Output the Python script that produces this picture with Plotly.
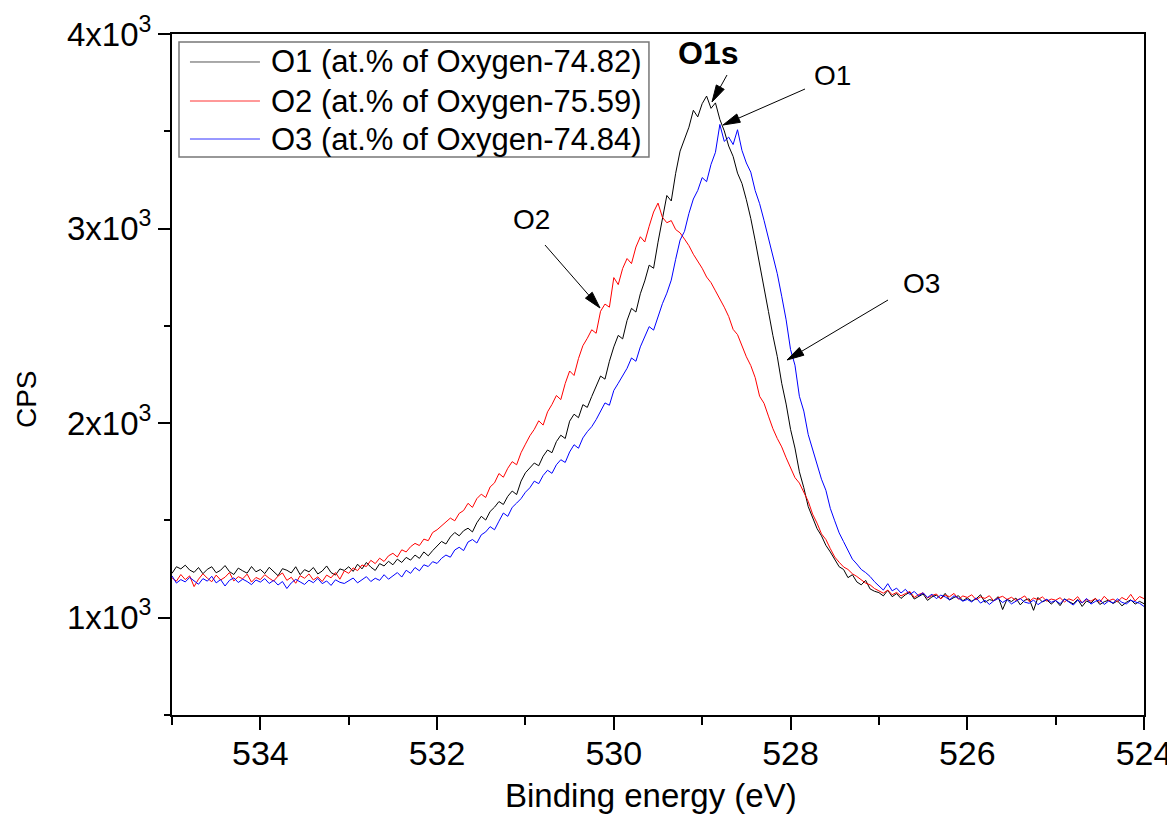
import plotly.graph_objects as go

# ---------------- data ----------------
energy_start = 535.0   # eV, first sample (left edge)
energy_step = 0.05     # eV between samples (x axis runs high -> low)

o1_cps = [
    1228, 1262, 1251, 1270, 1245, 1233, 1258, 1226, 1249, 1262, 1231, 1244, 1268, 1237, 1222, 1255, 1241, 1229, 1263, 1236,
    1248, 1227, 1259, 1238, 1216, 1252, 1244, 1230, 1262, 1221, 1247, 1236, 1258, 1225, 1240, 1266, 1232, 1219, 1251, 1243,
    1262, 1238, 1275, 1251, 1284, 1260, 1243, 1278, 1266, 1290, 1272, 1301, 1284, 1310, 1296, 1322, 1305, 1338, 1318, 1345,
    1368, 1392, 1379, 1415, 1438, 1421, 1447, 1460, 1441, 1488, 1521, 1502, 1546, 1568, 1597, 1582, 1624, 1651, 1633, 1702,
    1745, 1772, 1795, 1781, 1830, 1862, 1848, 1905, 1938, 1921, 2010, 2046, 2028, 2095, 2081, 2137, 2188, 2242, 2226, 2318,
    2392, 2451, 2433, 2528, 2590, 2571, 2665, 2731, 2812, 2796, 2930, 3048, 3170, 3142, 3284, 3398, 3462, 3521, 3608, 3574,
    3642, 3681, 3618, 3646, 3561, 3502, 3424, 3371, 3285, 3232, 3148, 3052, 2938, 2822, 2696, 2574, 2451, 2342, 2205, 2098,
    1968, 1872, 1750, 1668, 1571, 1512, 1458, 1421, 1372, 1338, 1296, 1262, 1248, 1206, 1221, 1184, 1169, 1192, 1148, 1136,
    1129, 1112, 1141, 1108, 1124, 1099, 1118, 1131, 1096, 1110, 1122, 1089, 1107, 1116, 1098, 1125, 1091, 1104, 1113, 1087,
    1102, 1085, 1097, 1118, 1079, 1093, 1088, 1108, 1042, 1095, 1083, 1101, 1066, 1090, 1097, 1038, 1104, 1081, 1092, 1070,
    1089, 1062, 1097, 1083, 1071, 1094, 1058, 1086, 1075, 1099, 1068, 1082, 1090, 1073, 1087, 1061, 1079, 1092, 1070, 1084, 1072,
]

o2_cps = [
    1205, 1188, 1222, 1196, 1215, 1160, 1198, 1226, 1203, 1185, 1219, 1194, 1208, 1232, 1189, 1211, 1200, 1224, 1183, 1207,
    1196, 1221, 1203, 1188, 1214, 1230, 1192, 1208, 1177, 1216, 1203, 1225, 1194, 1210, 1186, 1219, 1205, 1232, 1198, 1241,
    1228, 1256, 1242, 1271, 1263, 1295, 1278, 1306, 1289, 1318, 1331, 1312, 1349, 1338, 1365, 1382, 1371, 1404, 1396, 1438,
    1452, 1471, 1489, 1512, 1498, 1536, 1551, 1588, 1567, 1612, 1635, 1618, 1672, 1693, 1741, 1722, 1768, 1802, 1786, 1848,
    1892, 1935, 1968, 2012, 1990, 2058, 2096, 2142, 2121, 2204, 2268, 2245, 2332, 2398, 2436, 2480, 2462, 2575, 2612, 2596,
    2748, 2712, 2795, 2846, 2820, 2905, 2958, 2931, 3012, 3085, 3131, 3058, 3030, 3041, 2995, 2978, 2946, 2912, 2868, 2835,
    2796, 2751, 2722, 2680, 2641, 2596, 2548, 2482, 2455, 2398, 2341, 2296, 2234, 2138, 2102, 2036, 1972, 1921, 1878, 1822,
    1768, 1720, 1692, 1641, 1598, 1532, 1486, 1431, 1402, 1355, 1312, 1285, 1261, 1248, 1226, 1212, 1195, 1178, 1169, 1150,
    1138, 1126, 1142, 1118, 1130, 1112, 1124, 1135, 1104, 1119, 1128, 1101, 1114, 1122, 1097, 1116, 1108, 1125, 1095, 1112,
    1104, 1118, 1092, 1107, 1099, 1113, 1086, 1102, 1110, 1094, 1105, 1089, 1098, 1112, 1083, 1101, 1093, 1107, 1085, 1096,
    1090, 1103, 1081, 1097, 1088, 1108, 1076, 1094, 1085, 1099, 1079, 1110, 1087, 1096, 1082, 1104, 1091, 1120, 1086, 1109, 1098,
]

o3_cps = [
    1215, 1178, 1196, 1184, 1207, 1190, 1172, 1201, 1188, 1213, 1179, 1196, 1163, 1192, 1205, 1181, 1198, 1186, 1170, 1194,
    1183, 1201, 1176, 1192, 1168, 1186, 1150, 1179, 1197, 1184, 1171, 1193, 1180, 1202, 1175, 1189, 1166, 1195, 1182, 1176,
    1188, 1204, 1179, 1196, 1211, 1186, 1203, 1192, 1221, 1198, 1215, 1232, 1209, 1244, 1228, 1258, 1241, 1272, 1263, 1288,
    1279, 1305, 1322, 1311, 1348, 1362, 1345, 1389, 1402, 1384, 1426, 1441, 1468, 1452, 1496, 1538, 1521, 1567, 1589, 1612,
    1645, 1668, 1702, 1689, 1731, 1758, 1742, 1786, 1812, 1798, 1852, 1889, 1871, 1924, 1956, 1982, 2018, 2061, 2104, 2092,
    2168, 2205, 2241, 2282, 2335, 2318, 2392, 2441, 2496, 2478, 2552, 2614, 2668, 2735, 2842, 2941, 2986, 3078, 3152, 3196,
    3262, 3241, 3330, 3392, 3535, 3448, 3470, 3432, 3508, 3402, 3337, 3290, 3195, 3128, 3042, 2951, 2862, 2768, 2652, 2531,
    2378, 2298, 2138, 2062, 1941, 1868, 1792, 1712, 1655, 1562, 1498, 1436, 1391, 1342, 1301, 1276, 1248, 1232, 1212, 1185,
    1166, 1142, 1175, 1138, 1152, 1127, 1146, 1119, 1135, 1112, 1128, 1104, 1121, 1098, 1116, 1107, 1092, 1113, 1100, 1085,
    1094, 1081, 1102, 1075, 1090, 1068, 1087, 1099, 1078, 1093, 1071, 1085, 1098, 1080, 1074, 1091, 1067, 1083, 1095, 1079,
    1088, 1072, 1096, 1081, 1065, 1090, 1077, 1099, 1070, 1084, 1092, 1068, 1086, 1075, 1097, 1079, 1071, 1089, 1082, 1074, 1058,
]

series_names = [
    "O1 (at.% of Oxygen-74.82)",
    "O2 (at.% of Oxygen-75.59)",
    "O3 (at.% of Oxygen-74.84)",
]
series_values = [o1_cps, o2_cps, o3_cps]
series_colors = ["#000000", "#ff0000", "#0000ff"]
legend_colors = ["#555555", "#ff3333", "#3333ff"]

x_tick_vals = [534, 532, 530, 528, 526, 524]
x_minor_vals = [535, 533, 531, 529, 527, 525]
y_tick_vals = [1000, 2000, 3000, 4000]
y_tick_text = ["1x10<sup>3</sup>", "2x10<sup>3</sup>", "3x10<sup>3</sup>", "4x10<sup>3</sup>"]
y_minor_vals = [500, 1500, 2500, 3500]

x_title = "Binding energy (eV)"
y_title = "CPS"
peak_title = "O1s"
peak_labels = ["O1", "O2", "O3"]

energy = [round(energy_start - energy_step * i, 2) for i in range(len(o1_cps))]

FONT = "Arial, 'Liberation Sans', sans-serif"

# plot-area geometry in page pixels (used only for decorations)
PL, PR, PT, PB = 172, 1144, 34, 715


def to_paper(px, py):
    return (px - PL) / (PR - PL), (PB - py) / (PB - PT)


fig = go.Figure()
for name, vals, col in zip(series_names, series_values, series_colors):
    fig.add_trace(go.Scatter(x=energy, y=vals, mode="lines", name=name,
                             line=dict(color=col, width=1), showlegend=False))

axis_common = dict(showgrid=False, zeroline=False, showline=True, linewidth=2,
                   linecolor="black", mirror=True, ticks="outside", tickwidth=2,
                   tickcolor="black", ticklabeloverflow="allow", automargin=False)

fig.update_layout(
    width=1167, height=832,
    margin=dict(l=PL, r=1167 - PR, t=PT, b=832 - PB, autoexpand=False),
    paper_bgcolor="white", plot_bgcolor="white",
    font=dict(family=FONT, color="black"),
    xaxis=dict(range=[535, 524], tickmode="array", tickvals=x_tick_vals, ticklen=13,
               ticklabelstandoff=-6,
               tickfont=dict(family=FONT, size=34, color="black"),
               minor=dict(tickvals=x_minor_vals, ticks="outside", ticklen=8,
                          tickwidth=2, tickcolor="black"),
               **axis_common),
    yaxis=dict(range=[500, 4000], tickmode="array", tickvals=y_tick_vals,
               ticktext=y_tick_text, ticklen=12,
               tickfont=dict(family=FONT, size=33, color="black"),
               minor=dict(tickvals=y_minor_vals, ticks="outside", ticklen=6,
                          tickwidth=2, tickcolor="black"),
               **axis_common),
)

# axis titles
fig.add_annotation(text=x_title, xref="paper", yref="paper", x=0.4928, y=-0.1175,
                   showarrow=False, font=dict(family=FONT, size=33, color="black"),
                   xanchor="center", yanchor="middle")
fig.add_annotation(text=y_title, xref="paper", yref="paper", x=-0.1502, y=0.464,
                   textangle=-90, showarrow=False,
                   font=dict(family=FONT, size=28, color="black"),
                   xanchor="center", yanchor="middle")

# manual legend (long line samples like the original)
fig.add_shape(type="rect", xref="paper", yref="paper", x0=0.0072, x1=0.4907,
              y0=0.8194, y1=0.9883, line=dict(color="#777777", width=1.5),
              fillcolor="white")
legend_rows = [0.9589, 0.9016, 0.8458]
for name, col, yy in zip(series_names, legend_colors, legend_rows):
    fig.add_shape(type="line", xref="paper", yref="paper", x0=0.0185, x1=0.0905,
                  y0=yy, y1=yy, line=dict(color=col, width=1))
    fig.add_annotation(text=name, xref="paper", yref="paper", x=0.0998, y=yy,
                       xanchor="left", yanchor="middle", showarrow=False,
                       font=dict(family=FONT, size=31, color="black"))

# peak title and curve labels
fig.add_annotation(text="<b>" + peak_title + "</b>", x=528.93, y=3902, showarrow=False,
                   font=dict(family=FONT, size=32, color="black"))
label_pos = [(527.52, 3789), (530.93, 3049), (526.52, 2720)]
for lab, (lx, ly) in zip(peak_labels, label_pos):
    fig.add_annotation(text=lab, x=lx, y=ly, showarrow=False,
                       font=dict(family=FONT, size=28, color="black"))

# arrows: (tail px, tip px) drawn as a thin line + long filled head
arrows_px = [((727, 75), (712, 102)), ((805, 89), (723, 125)),
             ((545, 245), (600, 308)), ((888, 300), (787, 360))]
HEAD_L, HEAD_W = 17, 4.5
for (sx, sy), (tx, ty) in arrows_px:
    dx, dy = tx - sx, ty - sy
    n = (dx * dx + dy * dy) ** 0.5
    ux, uy = dx / n, dy / n
    bx, by = tx - ux * HEAD_L, ty - uy * HEAD_L
    c1 = (bx - uy * HEAD_W, by + ux * HEAD_W)
    c2 = (bx + uy * HEAD_W, by - ux * HEAD_W)
    p0, p1 = to_paper(sx, sy), to_paper(bx, by)
    fig.add_shape(type="line", xref="paper", yref="paper", x0=p0[0], y0=p0[1],
                  x1=p1[0], y1=p1[1], line=dict(color="black", width=1))
    pts = [to_paper(tx, ty), to_paper(*c1), to_paper(*c2)]
    path = "M{:.5f},{:.5f} L{:.5f},{:.5f} L{:.5f},{:.5f} Z".format(
        pts[0][0], pts[0][1], pts[1][0], pts[1][1], pts[2][0], pts[2][1])
    fig.add_shape(type="path", xref="paper", yref="paper", path=path,
                  fillcolor="black", line=dict(color="black", width=1))

fig.write_html("out.html")
